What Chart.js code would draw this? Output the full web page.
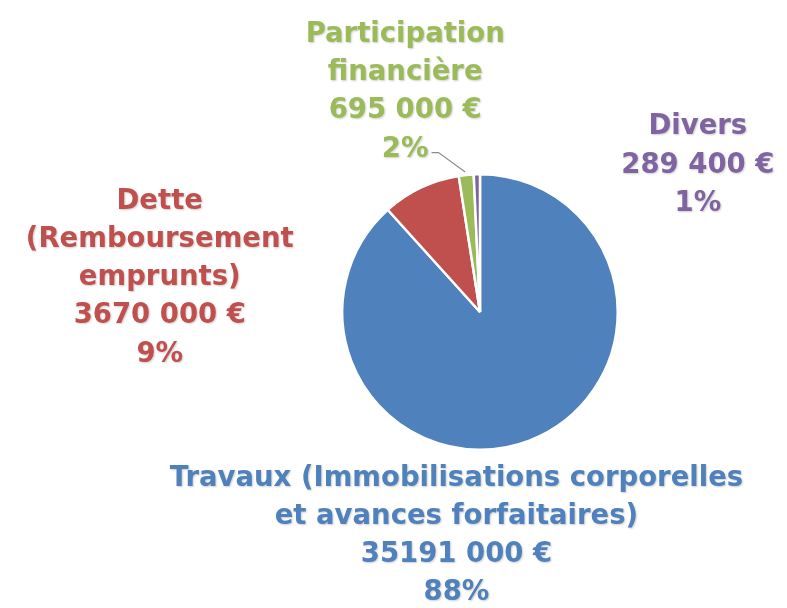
<!DOCTYPE html>
<html><head><meta charset="utf-8">
<script src="https://cdn.jsdelivr.net/npm/chart.js@4/dist/chart.umd.min.js"></script>
<style>html,body{margin:0;padding:0;background:#fff}#wrap{width:787px;height:608px}</style>
</head><body><div id="wrap"><canvas id="c" width="787" height="608"></canvas></div>
<script>
const categories = ["Travaux (Immobilisations corporelles|et avances forfaitaires)", "Dette|(Remboursement|emprunts)", "Participation|financière", "Divers"];
const amounts = [35191000, 3670000, 695000, 289400];
const amountLabels = ["35191 000 €", "3670 000 €", "695 000 €", "289 400 €"];
const percentLabels = ["88%", "9%", "2%", "1%"];
const colors = ["#4F81BD", "#C0504D", "#9BBB59", "#8064A2"];
const textColors = ["#4F81BD", "#C0504D", "#9BBB59", "#8064A2"];

// label placement (styling, not data): offset of first-line center from slice mid point on rim
const labelOffsets = [[-73, 38], [-261, 14], [-61, -140], [221, -47]];
const lineH = 38.2;
const FONT = "bold 27.5px 'DejaVu Sans', sans-serif";

const labelPlugin = {
  id: 'outLabels',
  afterDatasetsDraw(chart) {
    const ctx = chart.ctx;
    const meta = chart.getDatasetMeta(0);
    meta.data.forEach((arc, i) => {
      const p = arc.getProps(['x','y','startAngle','endAngle','outerRadius'], true);
      const mid = (p.startAngle + p.endAngle) / 2;
      const rx = p.x + Math.cos(mid) * p.outerRadius;
      const ry = p.y + Math.sin(mid) * p.outerRadius;
      const lx = rx + labelOffsets[i][0];
      const ly = ry + labelOffsets[i][1];
      const lines = categories[i].split('|').concat([amountLabels[i], percentLabels[i]]);
      ctx.save();
      ctx.font = FONT;
      ctx.textAlign = 'center';
      ctx.textBaseline = 'middle';
      ctx.fillStyle = textColors[i];
      ctx.shadowColor = 'rgba(0,0,0,0.2)';
      ctx.shadowBlur = 2;
      ctx.shadowOffsetX = 1;
      ctx.shadowOffsetY = 1;
      lines.forEach((t, k) => ctx.fillText(t, lx, ly + k * lineH));
      ctx.restore();
      if (i === 2) {
        const lastY = ly + (lines.length - 1) * lineH;
        ctx.font = FONT;
        const w = ctx.measureText(percentLabels[i]).width;
        ctx.save();
        ctx.strokeStyle = '#8C8C8C';
        ctx.lineWidth = 1.2;
        ctx.beginPath();
        ctx.moveTo(lx + w / 2 + 3, lastY + 3);
        ctx.lineTo(lx + w / 2 + 10, lastY + 3);
        ctx.lineTo(rx - 1, ry - 3);
        ctx.stroke();
        ctx.restore();
      }
    });
  }
};

new Chart(document.getElementById('c'), {
  type: 'pie',
  data: {
    labels: categories.map(c => c.replace(/\|/g, ' ')),
    datasets: [{
      data: amounts,
      backgroundColor: colors,
      borderColor: '#ffffff',
      borderWidth: 2.5,
      hoverOffset: 0
    }]
  },
  options: {
    responsive: false,
    animation: false,
    rotation: 0,
    layout: { padding: { top: 173, bottom: 157, left: 341, right: 168 } },
    plugins: { legend: { display: false }, tooltip: { enabled: false } }
  },
  plugins: [labelPlugin]
});
</script>
</body></html>
